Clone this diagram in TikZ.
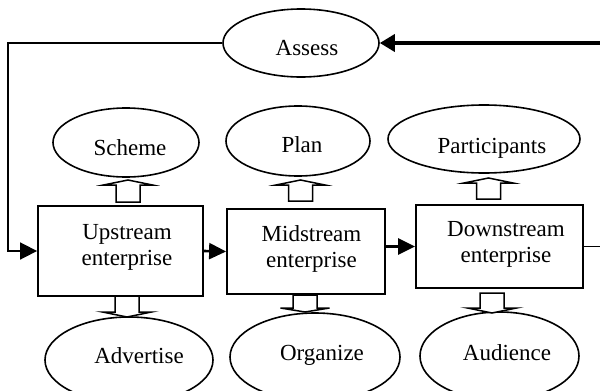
\documentclass[tikz,border=0pt]{standalone}
\usepackage{fontspec}
\setmainfont{Liberation Serif}
\usetikzlibrary{shapes.geometric,arrows.meta}
\tikzset{
  ell/.style={draw, ellipse, line width=1.6pt, inner sep=0pt},
  box/.style={draw, rectangle, line width=1.8pt, inner sep=0pt},
  lbl/.style={font=\fontsize{23}{26}\selectfont, inner sep=0pt, align=center},
  blk/.style={draw, line width=1.5pt, fill=white, line join=miter},
  conn/.style={line width=2.6pt, -{Triangle[length=17pt,width=16pt]}},
  thinconn/.style={line width=1.7pt},
  pics/harrow/.style 2 args={code={
    \draw[blk] (-12,0) -- (-12,-#1) -- (-24.5,-#1) -- (0,-#1-#2) -- (24.5,-#1) -- (12,-#1) -- (12,0) -- cycle;
  }}
}
\begin{document}
\begin{tikzpicture}[x=1pt,y=-1pt]
\useasboundingbox (0,0) rectangle (600,391);
\clip (0,0) rectangle (600,391);

% ellipses
\node[ell, minimum width=156pt, minimum height=68pt] (assess) at (301,43) {};
\node[ell, minimum width=146pt, minimum height=69pt] (scheme) at (126,142.5) {};
\node[ell, minimum width=144pt, minimum height=70pt] (plan) at (298,141) {};
\node[ell, minimum width=192pt, minimum height=68pt] (part) at (484,139) {};
\node[ell, minimum width=168pt, minimum height=86pt] (adv) at (129,360) {};
\node[ell, minimum width=170pt, minimum height=88pt] (org) at (315,357) {};
\node[ell, minimum width=159pt, minimum height=88pt] (aud) at (499.5,356) {};

% boxes
\node[box, minimum width=165pt, minimum height=90pt] (up) at (120.5,251) {};
\node[box, minimum width=158pt, minimum height=85pt] (mid) at (306,251.5) {};
\node[box, minimum width=167pt, minimum height=83pt] (down) at (499.5,246.5) {};

% labels
\node[lbl, anchor=base] (assessT) at (307,55) {Assess};
\node[lbl, anchor=base] (schemeT) at (130,155) {Scheme};
\node[lbl, anchor=base] (planT) at (302,152) {Plan};
\node[lbl, anchor=base] (partT) at (492,153) {Participants};
\node[lbl, anchor=base] (advT) at (139,363) {Advertise};
\node[lbl, anchor=base] (orgT) at (322,360) {Organize};
\node[lbl, anchor=base] (audT) at (507,360) {Audience};
\node[lbl] (upT) at (127,247) {Upstream\\enterprise};
\node[lbl] (midT) at (311.5,248.5) {Midstream\\enterprise};
\node[lbl] (downT) at (506,244.7) {Downstream\\enterprise};

% hollow block arrows
\pic at (128,202) {harrow={17}{5}};
\pic at (300.5,201) {harrow={16}{5}};
\pic at (488.5,199) {harrow={16}{5}};
\pic[rotate=180] at (127,296) {harrow={16}{5}};
\pic[rotate=180] at (305,295) {harrow={13}{4}};
\pic[rotate=180] at (492,293) {harrow={15}{5}};

% connectors
\coordinate (topR) at (600,43);
\coordinate (corner) at (8,43);
\coordinate (rEnd) at (600,246.5);
\draw[line width=3.5pt, -{Triangle[length=15pt,width=17pt]}] (topR) -- (assess.east);
\draw[thinconn, -{Triangle[length=17pt,width=17pt]}] (assess.west) -- (corner) |- (up.west);
\draw[conn] (up.east) -- (mid.west);
\draw[conn] (mid.east |- down.west) -- (down.west);
\draw[thinconn] (down.east) -- (rEnd);
\end{tikzpicture}
\end{document}
